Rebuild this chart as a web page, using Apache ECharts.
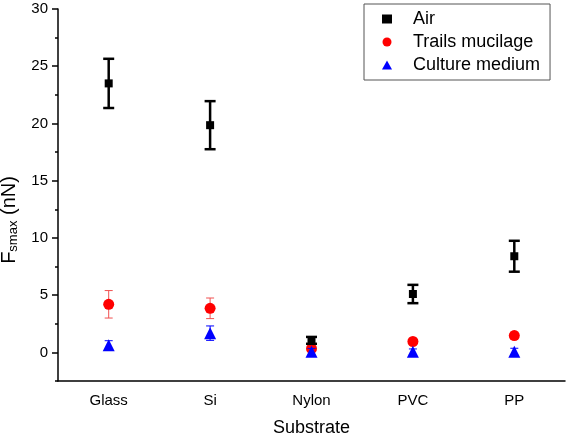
<!DOCTYPE html>
<html><head><meta charset="utf-8">
<script src="https://cdn.jsdelivr.net/npm/echarts@6/dist/echarts.min.js"></script>
<style>html,body{margin:0;padding:0;background:#fff}#c{width:566px;height:437px}</style>
</head><body><div id="c"></div>
<script>
const categories = ['Glass', 'Si', 'Nylon', 'PVC', 'PP'];
const airMean = [23.5, 19.85, 1.05, 5.1, 8.4];
const airErr = [2.15, 2.1, 0.3, 0.8, 1.35];
const mucMean = [4.2, 3.85, 0.32, 0.95, 1.47];
const mucErr = [1.2, 0.9, 0.15, 0.12, 0.3];
const medMean = [0.62, 1.68, 0.05, 0.05, 0.06];
const medErr = [0.4, 0.63, 0.3, 0.25, 0.3];
const yTicks = [0, 5, 10, 15, 20, 25, 30];
const yMinorTicks = [-2.5, 2.5, 7.5, 12.5, 17.5, 22.5, 27.5];
const seriesNames = ['Air', 'Trails mucilage', 'Culture medium'];

const FONT = '"Liberation Sans", Arial, sans-serif';

function errSeries(name, mean, err, color, lw, capW, z) {
  return {
    type: 'custom', name: name + ' err', z: z,
    data: mean.map((m, i) => [i, m - err[i], m + err[i]]),
    renderItem: function (params, api) {
      const x = api.value(0);
      const lo = api.coord([x, api.value(1)]);
      const hi = api.coord([x, api.value(2)]);
      const style = { stroke: color, lineWidth: lw };
      return { type: 'group', children: [
        { type: 'line', shape: { x1: lo[0], y1: lo[1], x2: hi[0], y2: hi[1] }, style: style },
        { type: 'line', shape: { x1: lo[0] - capW / 2, y1: lo[1], x2: lo[0] + capW / 2, y2: lo[1] }, style: style },
        { type: 'line', shape: { x1: hi[0] - capW / 2, y1: hi[1], x2: hi[0] + capW / 2, y2: hi[1] }, style: style }
      ]};
    },
    silent: true
  };
}

const chart = echarts.init(document.getElementById('c'));
chart.setOption({
  animation: false,
  backgroundColor: '#fff',
  grid: { left: 58, right: 1, top: 9, bottom: 56, containLabel: false, outerBoundsMode: 'none' },
  legend: {
    data: [
      { name: seriesNames[0], icon: 'rect' },
      { name: seriesNames[1], icon: 'circle' },
      { name: seriesNames[2], icon: 'triangle' }
    ],
    orient: 'vertical', left: 364, top: 4,
    padding: [6, 10, 6, 18],
    itemWidth: 10, itemHeight: 9, itemGap: 5,
    borderColor: '#555', borderWidth: 1,
    textStyle: { fontFamily: FONT, fontSize: 18, color: '#000', lineHeight: 18, padding: [0, 0, 0, 16] }
  },
  xAxis: [
    {
      type: 'category', data: categories, boundaryGap: true, position: 'bottom',
      axisLine: { onZero: false, lineStyle: { color: '#000', width: 1.5 } },
      axisTick: { alignWithLabel: true, length: 6, lineStyle: { color: '#000', width: 1.5 } },
      axisLabel: { fontFamily: FONT, fontSize: 15, color: '#000', margin: 12 },
      name: 'Substrate', nameLocation: 'middle', nameGap: 38,
      nameTextStyle: { fontFamily: FONT, fontSize: 18, color: '#000' },
      splitLine: { show: false }
    },
    {
      type: 'category', data: categories, boundaryGap: true, position: 'bottom',
      axisLine: { show: false, onZero: false },
      axisTick: { alignWithLabel: false, length: 3, lineStyle: { color: '#000', width: 1.5 } },
      axisLabel: { show: false }, splitLine: { show: false }
    }
  ],
  yAxis: [
    {
      type: 'value', min: -2.5, max: 30, position: 'left',
      axisLine: { show: true, onZero: false, lineStyle: { color: '#000', width: 1.5 } },
      axisTick: { show: true, customValues: yTicks, length: 6, lineStyle: { color: '#000', width: 1.5 } },
      axisLabel: { customValues: yTicks, fontFamily: FONT, fontSize: 15, color: '#000', margin: 10 },
      splitLine: { show: false },
      name: '{a|F}{b|smax}{a| (nN)}', nameLocation: 'middle', nameRotate: 90, nameGap: 35,
      nameTextStyle: {
        fontFamily: FONT, color: '#000', padding: [0, 50, 0, 0],
        rich: {
          a: { fontFamily: FONT, fontSize: 20, color: '#000' },
          b: { fontFamily: FONT, fontSize: 13, color: '#000', padding: [9, 0, 0, 0] }
        }
      }
    },
    {
      type: 'value', min: -2.5, max: 30, position: 'left',
      axisLine: { show: false, onZero: false },
      axisTick: { show: true, customValues: yMinorTicks, length: 3, lineStyle: { color: '#000', width: 1.5 } },
      axisLabel: { show: false }, splitLine: { show: false }
    }
  ],
  series: [
    errSeries(seriesNames[1], mucMean, mucErr, '#f05050', 1, 8, 2),
    { type: 'scatter', name: seriesNames[1], symbol: 'circle', symbolSize: 11, z: 3,
      itemStyle: { color: '#ff0000', opacity: 1 }, data: mucMean.map((v, i) => [i, v]) },
    errSeries(seriesNames[2], medMean, medErr, '#0000ff', 1, 8, 4),
    { type: 'scatter', name: seriesNames[2], symbol: 'triangle', symbolSize: 12, z: 5,
      itemStyle: { color: '#0000ff', opacity: 1 }, data: medMean.map((v, i) => [i, v]) },
    errSeries(seriesNames[0], airMean, airErr, '#000', 2.5, 11, 6),
    { type: 'scatter', name: seriesNames[0], symbol: 'rect', symbolSize: 8, z: 7,
      itemStyle: { color: '#000', opacity: 1 }, data: airMean.map((v, i) => [i, v]) }
  ]
});
</script></body></html>
